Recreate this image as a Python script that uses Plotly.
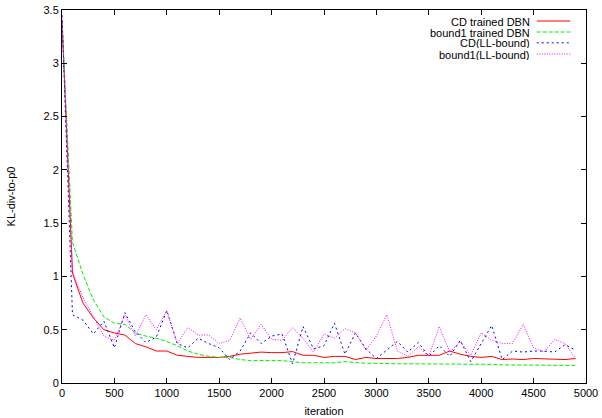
import plotly.graph_objects as go

iterations = list(range(0, 5000, 100))

cd_trained = [3.40, 1.03, 0.75, 0.61, 0.50, 0.47, 0.45, 0.37, 0.34, 0.30,
              0.30, 0.26, 0.25, 0.24, 0.24, 0.24, 0.25, 0.27, 0.28, 0.29,
              0.285, 0.285, 0.295, 0.26, 0.26, 0.24, 0.25, 0.25, 0.22, 0.24,
              0.23, 0.23, 0.23, 0.24, 0.26, 0.26, 0.26, 0.30, 0.27, 0.25,
              0.24, 0.25, 0.22, 0.225, 0.22, 0.23, 0.225, 0.22, 0.22, 0.23]

bound1_trained = [3.40, 1.32, 1.02, 0.78, 0.62, 0.56, 0.55, 0.47, 0.44, 0.42,
                  0.39, 0.35, 0.30, 0.27, 0.25, 0.24, 0.24, 0.22, 0.21, 0.21,
                  0.21, 0.21, 0.20, 0.19, 0.19, 0.19, 0.19, 0.20, 0.19, 0.185,
                  0.185, 0.18, 0.18, 0.18, 0.18, 0.18, 0.18, 0.18, 0.175, 0.175,
                  0.175, 0.175, 0.17, 0.17, 0.17, 0.17, 0.17, 0.165, 0.165, 0.165]

cd_llbound = [3.45, 0.64, 0.59, 0.46, 0.58, 0.33, 0.66, 0.48, 0.38, 0.43,
              0.68, 0.37, 0.33, 0.42, 0.37, 0.33, 0.22, 0.30, 0.47, 0.37,
              0.44, 0.46, 0.18, 0.53, 0.32, 0.35, 0.56, 0.27, 0.47, 0.32,
              0.23, 0.31, 0.39, 0.29, 0.38, 0.25, 0.35, 0.25, 0.40, 0.20,
              0.37, 0.54, 0.22, 0.30, 0.29, 0.30, 0.30, 0.29, 0.36, 0.31]

bound1_llbound = [3.45, 1.05, 0.80, 0.62, 0.44, 0.40, 0.64, 0.44, 0.64, 0.50,
                  0.68, 0.37, 0.52, 0.45, 0.45, 0.37, 0.40, 0.61, 0.41, 0.55,
                  0.41, 0.40, 0.52, 0.42, 0.29, 0.46, 0.42, 0.51, 0.47, 0.31,
                  0.44, 0.64, 0.30, 0.25, 0.34, 0.25, 0.53, 0.29, 0.39, 0.26,
                  0.47, 0.40, 0.37, 0.37, 0.55, 0.33, 0.29, 0.41, 0.37, 0.23]

series_names = ["CD trained DBN", "bound1 trained DBN", "CD(LL-bound)", "bound1(LL-bound)"]
series_values = [cd_trained, bound1_trained, cd_llbound, bound1_llbound]
colors = ["#ff0000", "#00ee00", "#0000ff", "#ff00ff"]
dashes = ["solid", "4px,2px", "2px,3px", "1px,1.5px"]

x_ticks = list(range(0, 5001, 500))
y_ticks = [0, 0.5, 1, 1.5, 2, 2.5, 3, 3.5]
y_tick_labels = ["0", "0.5", "1", "1.5", "2", "2.5", "3", "3.5"]

font_family = "Liberation Sans, Arial, Helvetica, sans-serif"

fig = go.Figure()
for name, vals, col, dash in zip(series_names, series_values, colors, dashes):
    fig.add_trace(go.Scatter(x=iterations, y=vals, mode="lines", name=name,
                             line=dict(color=col, width=1, dash=dash),
                             showlegend=False))

# custom gnuplot-style legend: right-aligned text with sample to the right
row_y = [0.9705, 0.941, 0.912, 0.882]
for name, col, dash, yy in zip(series_names, colors, dashes, row_y):
    fig.add_annotation(xref="paper", yref="paper", x=0.895, y=yy, text=name,
                       showarrow=False, xanchor="right", yanchor="middle",
                       height=11, borderpad=0,
                       font=dict(family=font_family, size=11, color="#000000"))
    fig.add_shape(type="line", xref="paper", yref="paper",
                  x0=0.906, x1=0.970, y0=yy, y1=yy,
                  line=dict(color=col, width=1, dash=dash))

axis_common = dict(showgrid=False, zeroline=False, showline=True, linecolor="#000000",
                   linewidth=1, mirror="ticks", ticks="inside", ticklen=5,
                   tickcolor="#000000", tickwidth=1, automargin=False,
                   tickfont=dict(family=font_family, size=11, color="#000000"))

fig.update_xaxes(range=[0, 5000], tickvals=x_ticks, ticktext=[str(v) for v in x_ticks],
                 title=dict(text="iteration", standoff=9,
                            font=dict(family=font_family, size=11, color="#000000")),
                 **axis_common)
fig.update_yaxes(range=[0, 3.5], tickvals=y_ticks, ticktext=y_tick_labels,
                 title=dict(text="KL-div-to-p0", standoff=25,
                            font=dict(family=font_family, size=11, color="#000000")),
                 **axis_common)

fig.update_layout(width=602, height=418, paper_bgcolor="white", plot_bgcolor="white",
                  margin=dict(l=62, r=16, t=10, b=35),
                  font=dict(family=font_family, size=11, color="#000000"))

fig.write_html("out.html", config={"displayModeBar": False},
               post_script="document.body.style.margin='0';document.body.style.overflow='hidden';")
